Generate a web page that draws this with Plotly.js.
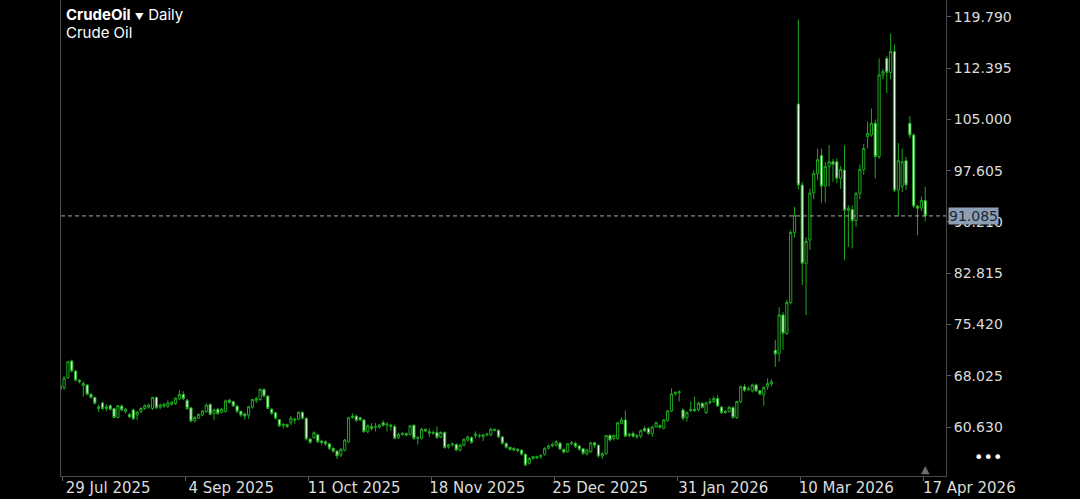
<!DOCTYPE html>
<html><head><meta charset="utf-8">
<script src="https://cdn.plot.ly/plotly-3.0.1.min.js"></script>
<style>html,body{margin:0;padding:0;background:#000;overflow:hidden}#chart{width:1080px;height:499px}</style>
</head><body><div id="chart"></div>
<script>
const symbol = 'CrudeOil';
const period = 'Daily';
const description = 'Crude Oil';
const lastPrice = 91.085;
const tickLabels = ['29 Jul 2025','4 Sep 2025','11 Oct 2025','18 Nov 2025','25 Dec 2025','31 Jan 2026','10 Mar 2026','17 Apr 2026'];
const barsPerLabel = 32;
const priceTicks = [60.630, 68.025, 75.420, 82.815, 90.210, 97.605, 105.000, 112.395, 119.790];

const openP = [
66.0,66.3,67.75,70.15,68.7,67.4,66.6,66.7,65.35,64.9,
63.3,64.1,63.3,63.7,63.3,62.0,63.65,62.85,62.45,63.1,
62.35,62.85,63.3,63.5,63.3,64.9,63.5,63.65,63.6,63.9,
64.0,64.7,65.35,64.5,63.4,61.5,61.9,62.35,62.85,63.9,
62.6,63.2,62.75,62.85,64.5,64.3,63.65,62.9,62.5,62.35,
63.5,64.4,64.6,66.05,65.1,63.2,62.7,61.7,61.0,61.0,
61.25,61.6,61.75,62.75,61.9,58.9,59.1,59.5,58.6,58.5,
58.2,57.55,57.15,56.6,57.3,58.5,62.0,62.2,62.0,61.65,
59.95,60.7,60.6,60.6,61.25,60.9,60.7,60.7,59.1,59.55,
59.7,59.55,60.9,59.0,59.0,60.3,59.95,59.85,59.85,59.2,
59.85,57.75,58.05,58.1,57.3,58.0,58.75,59.1,59.4,59.4,
59.2,59.5,59.5,60.3,60.15,59.2,58.27,57.7,57.55,57.4,
57.3,56.7,55.4,56.1,56.35,56.35,56.7,57.55,57.9,58.0,
58.3,57.4,57.05,58.2,58.25,57.9,57.5,56.75,57.05,58.35,
58.0,56.45,56.8,59.4,58.95,58.95,61.15,61.65,59.4,59.7,
59.2,59.3,60.4,60.4,59.7,60.65,60.85,60.45,61.55,62.95,
65.4,65.6,63.1,62.0,62.95,63.2,63.1,64.05,62.7,64.1,
64.3,64.75,63.5,62.85,62.85,63.45,62.0,64.3,66.45,66.05,
65.85,66.7,65.85,65.25,66.45,66.85,71.7,71.25,76.8,74.14,
78.6,88.7,107.24,95.55,84.24,87.6,94.4,97.2,99.8,95.4,
98.2,98.9,98.9,96.5,97.7,91.9,92.0,90.4,94.35,97.8,
102.5,102.76,104.45,99.64,111.4,113.8,111.8,114.8,94.8,95.3,
99.06,104.45,102.76,92.5,92.2,93.3];

const highP = [
66.8,68.0,70.1,70.35,68.9,67.5,67.2,66.8,65.5,65.0,
63.9,64.3,63.9,63.9,63.4,63.8,63.9,63.4,62.7,63.3,
62.9,63.5,63.9,64.0,65.0,65.0,64.0,64.1,64.5,64.4,
64.9,65.95,65.8,64.7,63.5,62.2,62.6,63.1,64.0,64.0,
63.3,63.4,63.4,64.6,64.7,64.4,63.8,63.0,62.7,63.7,
64.7,65.0,66.25,66.2,65.2,63.4,62.8,61.8,61.2,61.1,
62.2,62.0,62.9,62.9,62.0,59.0,60.0,59.7,58.8,58.7,
58.3,57.7,57.3,57.6,58.9,62.1,62.6,62.4,62.1,61.8,
61.0,61.2,61.2,61.1,61.6,61.3,61.1,61.0,59.8,59.9,
59.8,60.9,61.0,59.3,60.5,60.4,60.45,60.1,60.7,60.0,
60.0,58.2,58.4,58.3,58.2,59.0,59.4,59.3,60.0,59.7,
59.6,59.8,60.5,60.4,60.3,59.3,58.4,57.8,57.7,57.6,
57.4,56.8,56.3,56.5,56.5,56.7,57.7,58.1,58.4,58.7,
58.5,57.5,58.3,58.6,58.5,58.0,57.6,57.5,58.5,58.5,
58.1,57.0,59.5,59.6,59.5,61.3,62.0,63.0,59.8,60.0,
59.6,60.3,60.75,60.6,60.8,61.4,61.0,61.8,63.1,66.2,
65.8,65.9,63.3,62.9,64.3,65.0,64.3,64.2,64.3,64.8,
65.1,65.2,63.7,63.1,63.7,63.6,64.4,66.6,66.8,66.5,
66.9,66.9,66.0,66.5,67.65,67.5,73.2,77.9,77.2,79.0,
89.0,92.4,119.4,96.0,88.0,95.0,97.7,100.8,100.8,98.9,
101.3,99.3,99.4,98.3,101.3,92.6,92.6,94.6,98.5,101.5,
104.7,106.6,105.0,113.8,112.3,114.2,117.4,115.8,101.6,100.8,
99.6,105.5,103.0,92.7,93.9,95.3];

const lowP = [
65.2,66.0,67.6,68.5,67.2,66.9,65.0,65.2,64.7,63.9,
62.8,63.1,62.9,63.0,61.9,61.9,62.9,62.6,61.9,61.7,
61.6,62.6,63.1,63.3,63.1,63.2,63.2,63.4,63.4,63.7,
63.8,64.5,64.5,63.1,61.3,61.3,61.8,62.2,62.7,62.3,
61.6,62.4,62.6,62.7,64.0,63.5,62.6,62.1,61.7,61.8,
63.3,64.1,64.4,64.9,63.2,62.4,61.7,60.6,60.4,60.5,
60.9,61.1,61.6,61.7,58.7,58.2,58.9,58.3,58.0,57.9,
57.3,56.9,56.0,56.3,57.1,58.3,61.8,61.4,61.5,59.8,
59.7,60.1,60.0,60.4,60.7,60.0,60.1,58.9,58.9,59.4,
59.3,59.4,58.8,58.1,58.8,59.9,59.2,59.5,58.9,59.0,
57.5,57.5,57.8,57.1,57.1,57.8,58.5,58.2,59.0,59.0,
58.6,59.3,59.3,60.0,59.0,58.1,57.5,57.2,57.1,57.0,
56.5,54.95,55.2,55.9,56.0,56.0,56.5,57.4,57.7,57.8,
57.3,56.8,56.9,58.0,57.6,57.2,56.6,56.5,56.9,57.6,
56.2,56.0,56.6,58.5,58.7,58.8,61.0,59.2,59.1,59.1,
58.9,59.0,59.9,59.5,59.2,60.5,60.4,60.3,61.4,62.8,
65.2,64.3,61.6,61.4,62.8,62.8,62.9,63.3,62.5,63.9,
64.1,63.5,62.5,62.5,62.7,61.8,61.8,64.1,65.7,65.8,
65.6,65.7,65.2,63.7,66.0,66.5,69.3,70.05,71.8,73.9,
78.3,88.0,94.9,81.1,76.8,86.2,93.5,96.3,93.0,93.0,
95.3,96.0,95.8,95.0,84.7,86.6,86.4,89.5,93.5,97.0,
100.8,102.5,96.5,99.3,110.8,108.8,110.8,94.5,91.0,94.5,
94.8,102.3,92.2,88.3,91.8,90.3];

const closeP = [
66.6,67.7,70.05,68.7,67.4,67.15,66.9,65.35,64.9,64.05,
63.55,63.3,63.55,63.2,62.0,63.7,63.1,63.2,62.1,61.8,
62.75,63.3,63.7,63.8,64.9,63.4,63.8,63.9,64.1,64.2,
64.8,65.35,64.7,63.3,61.5,62.0,62.45,62.95,63.8,62.45,
63.1,62.55,63.2,64.4,64.2,63.65,62.85,62.35,62.2,63.55,
64.6,64.75,66.05,65.1,63.3,62.6,61.9,60.8,60.9,60.7,
61.9,61.75,62.75,61.9,58.9,58.4,59.8,58.5,58.4,58.2,
57.55,57.15,56.45,57.4,58.75,61.95,62.2,61.55,61.65,59.95,
60.8,60.4,60.7,60.9,60.9,61.05,60.9,59.0,59.55,59.7,
59.45,60.8,58.99,59.1,60.3,60.05,59.75,59.75,59.1,59.85,
57.65,58.05,58.2,57.3,58.0,58.85,59.2,58.4,59.6,59.35,
59.5,59.6,60.3,60.15,59.2,58.27,57.7,57.4,57.3,57.25,
56.7,55.15,56.1,56.35,56.2,56.5,57.55,57.9,58.1,58.5,
57.45,57.0,58.2,58.35,57.8,57.4,56.8,57.3,58.35,58.0,
56.45,56.8,59.4,58.75,59.4,61.25,61.65,59.3,59.6,59.3,
59.4,60.1,60.05,59.7,60.65,61.25,60.6,61.65,62.95,65.4,
65.6,65.7,61.9,62.7,63.2,63.0,64.05,63.45,64.1,64.3,
64.75,63.65,62.7,62.75,63.45,62.0,64.3,66.45,65.95,66.15,
66.7,65.85,65.4,66.35,66.9,67.15,71.15,76.8,74.14,78.6,
88.7,91.2,95.55,84.24,87.4,94.4,97.2,99.2,95.4,98.2,
98.9,98.5,96.5,97.8,91.9,92.2,90.4,94.35,97.8,100.8,
103.0,104.45,99.64,111.42,111.9,111.8,114.8,94.8,99.06,98.9,
95.55,102.76,92.5,92.2,93.3,91.085];

const barIndex = openP.map((_, i) => i);
const tickVals = tickLabels.map((_, k) => k * barsPerLabel + 0.5);

const green = '#1fa81f';
const trace = {
  type: 'candlestick',
  x: barIndex, open: openP, high: highP, low: lowP, close: closeP,
  increasing: {line: {color: green, width: 1}, fillcolor: '#000000'},
  decreasing: {line: {color: green, width: 1}, fillcolor: '#eaffea'},
  whiskerwidth: 0,
  hoverinfo: 'skip'
};

const axisFont = {family: 'DejaVu Sans', size: 14, color: '#dcdcdc'};
const layout = {
  width: 1080, height: 499,
  paper_bgcolor: '#000000', plot_bgcolor: '#000000',
  margin: {l: 61, r: 134, t: 0, b: 23},
  showlegend: false,
  boxgap: 0.18,
  xaxis: {
    range: [0.2, 230.4], rangeslider: {visible: false},
    tickmode: 'array', tickvals: tickVals, ticktext: tickLabels,
    ticks: 'outside', ticklen: 4, tickcolor: '#5a5a5a', tickwidth: 1,
    tickfont: {family: 'DejaVu Sans', size: 15, color: '#dcdcdc'},
    ticklabelshift: 46, ticklabelstandoff: -6,
    showgrid: false, zeroline: false,
    showline: true, linecolor: '#4a4a4a', linewidth: 1, mirror: true,
    fixedrange: true
  },
  yaxis: {
    side: 'right', range: [53.56, 122.24],
    tickmode: 'array', tickvals: priceTicks, ticktext: priceTicks.map(v => v.toFixed(3)),
    ticks: 'outside', ticklen: 4, tickcolor: '#5a5a5a', tickwidth: 1,
    tickfont: axisFont,
    showgrid: false, zeroline: false,
    showline: true, linecolor: '#4a4a4a', linewidth: 1, mirror: true,
    fixedrange: true
  },
  shapes: [{
    type: 'line', xref: 'paper', x0: 0, x1: 1, yref: 'y', y0: lastPrice, y1: lastPrice,
    line: {color: '#a8a8a8', width: 1, dash: '4px,3px'}
  }],
  annotations: [
    {xref: 'paper', yref: 'paper', x: 0, y: 1, xanchor: 'left', yanchor: 'middle', xshift: 3, yshift: -14,
     text: '<b>' + symbol + '</b> <span style="font-size:9px">▼</span> ' + period, showarrow: false,
     font: {family: 'Inter', size: 15, color: '#ffffff'}},
    {xref: 'paper', yref: 'paper', x: 0, y: 1, xanchor: 'left', yanchor: 'middle', xshift: 3, yshift: -32,
     text: description, showarrow: false,
     font: {family: 'Inter', size: 15, color: '#ffffff'}},
    {xref: 'paper', yref: 'y', x: 1, y: lastPrice, xanchor: 'left', yanchor: 'middle', xshift: 2,
     text: lastPrice.toFixed(3), showarrow: false, bgcolor: '#8d9fb5', borderpad: 0,
     font: {family: 'DejaVu Sans', size: 14, color: '#1c2636'}},
    {xref: 'paper', yref: 'paper', x: 1, y: 0, xanchor: 'left', yanchor: 'middle', xshift: 26, yshift: 19,
     text: '•••', showarrow: false, font: {family: 'DejaVu Sans', size: 16, color: '#ffffff'}},
    {xref: 'x', yref: 'paper', x: barIndex[barIndex.length - 1], y: 0, xanchor: 'center', yanchor: 'bottom', yshift: -2,
     text: '▲', showarrow: false, font: {family: 'DejaVu Sans', size: 11, color: '#6e6e6e'}}
  ]
};

Plotly.newPlot('chart', [trace], layout, {displayModeBar: false, staticPlot: true});
</script>
</body></html>
